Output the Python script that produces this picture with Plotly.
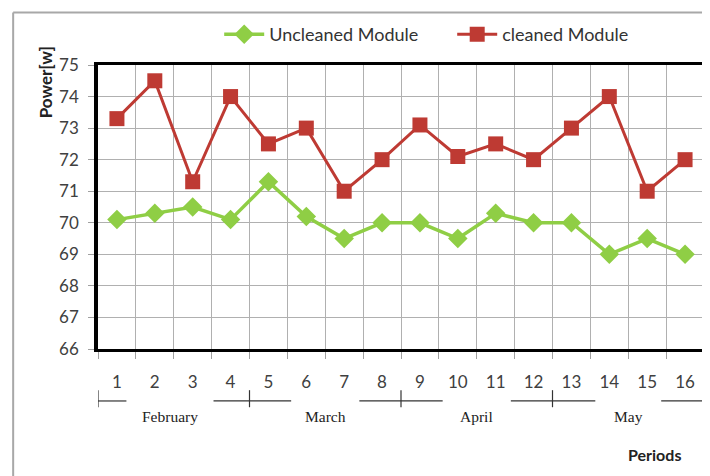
import plotly.graph_objects as go

periods = list(range(1, 17))
period_labels = [str(p) for p in periods]
uncleaned = [70.1, 70.3, 70.5, 70.1, 71.3, 70.2, 69.5, 70.0, 70.0, 69.5, 70.3, 70.0, 70.0, 69.0, 69.5, 69.0]
cleaned = [73.3, 74.5, 71.3, 74.0, 72.5, 73.0, 71.0, 72.0, 73.1, 72.1, 72.5, 72.0, 73.0, 74.0, 71.0, 72.0]
months = ["February", "March", "April", "May"]
periods_per_month = 4

GREEN = "#8fce45"
RED = "#be3a33"
TICKFONT = dict(family="Lato, 'Open Sans', sans-serif", size=17, color="#404040")

fig = go.Figure()
fig.add_trace(go.Scatter(
    x=periods, y=uncleaned, mode="lines+markers", name="Uncleaned Module",
    line=dict(color=GREEN, width=3.5),
    marker=dict(symbol="diamond", size=15, color=GREEN),
))
fig.add_trace(go.Scatter(
    x=periods, y=cleaned, mode="lines+markers", name="cleaned Module",
    line=dict(color=RED, width=3),
    marker=dict(symbol="square", size=15, color=RED),
))

boundaries = [i + 0.5 for i in range(0, len(periods) + 1)]

fig.update_xaxes(
    range=[0.5, 16.5], tickvals=periods, ticktext=period_labels,
    ticks="", showgrid=False, zeroline=False,
    showline=True, linecolor="black", linewidth=3, mirror=True,
    tickfont=TICKFONT, ticklabelstandoff=16,
    minor=dict(tickvals=boundaries, showgrid=True, gridcolor="#b0b0b0", gridwidth=1.2,
               ticks="outside", ticklen=7, tickcolor="#a0a0a0"),
)
fig.update_yaxes(
    range=[66, 75], dtick=1, showgrid=True, gridcolor="#b0b0b0", gridwidth=1.2,
    zeroline=False, showline=True, linecolor="black", linewidth=3.5, mirror=True,
    ticks="outside", ticklen=6, tickcolor="#a0a0a0",
    tickfont=TICKFONT, ticklabelstandoff=6,
)

shapes = []
# outer frame (top and left edges visible)
shapes.append(dict(type="line", xref="paper", yref="paper", x0=-0.14, x1=1.03, y0=1.185, y1=1.185,
                   line=dict(color="#a8a8a8", width=2)))
shapes.append(dict(type="line", xref="paper", yref="paper", x0=-0.14, x1=-0.14, y0=1.185, y1=-0.5,
                   line=dict(color="#a8a8a8", width=2)))

line_y = -0.183
tick_top = -0.145
tick_bot = -0.205
half_gaps = [1.15, 0.9, 0.9, 0.87]
for i, m in enumerate(months):
    start = i * periods_per_month + 0.5
    end = start + periods_per_month
    center = (start + end) / 2 - (0.1 if i == 0 else 0.0)
    hg = half_gaps[i]
    shapes.append(dict(type="line", xref="x", yref="paper", x0=start, x1=center - hg, y0=line_y, y1=line_y,
                       line=dict(color="#333", width=1.2)))
    shapes.append(dict(type="line", xref="x", yref="paper", x0=center + hg, x1=end, y0=line_y, y1=line_y,
                       line=dict(color="#333", width=1.2)))
    fig.add_annotation(x=center, y=-0.238, xref="x", yref="paper", text=m, showarrow=False,
                       font=dict(family="'Liberation Serif', 'DejaVu Serif', serif", size=15.5, color="#222"),
                       xanchor="center", yanchor="middle")
for b in range(0, len(periods) + 1, periods_per_month):
    shapes.append(dict(type="line", xref="x", yref="paper", x0=b + 0.5, x1=b + 0.5, y0=tick_top, y1=tick_bot,
                       line=dict(color="#333", width=1.2)))

fig.add_annotation(x=0.919, y=-0.373, xref="paper", yref="paper", text="<b>Periods</b>", showarrow=False,
                   xanchor="center", yanchor="middle",
                   font=dict(family="Lato, 'Open Sans', sans-serif", size=16, color="#222"))
fig.add_annotation(x=-0.087, y=0.94, xref="paper", yref="paper", text="<b>Power[w]</b>", showarrow=False,
                   xanchor="center", yanchor="middle",
                   textangle=-90, font=dict(family="Lato, 'Open Sans', sans-serif", size=17, color="#222"))

fig.update_layout(
    width=702, height=468,
    margin=dict(l=90, r=6, t=57, b=127, autoexpand=False),
    paper_bgcolor="white", plot_bgcolor="white",
    shapes=shapes,
    legend=dict(orientation="h", x=0.2, y=1.107, xanchor="left", yanchor="middle",
                font=dict(family="Lato, 'Open Sans', sans-serif", size=18, color="#333"),
                itemwidth=40, entrywidth=178, entrywidthmode="pixels",
                bgcolor="rgba(0,0,0,0)", traceorder="normal"),
    showlegend=True,
)

fig.write_html("out.html")
